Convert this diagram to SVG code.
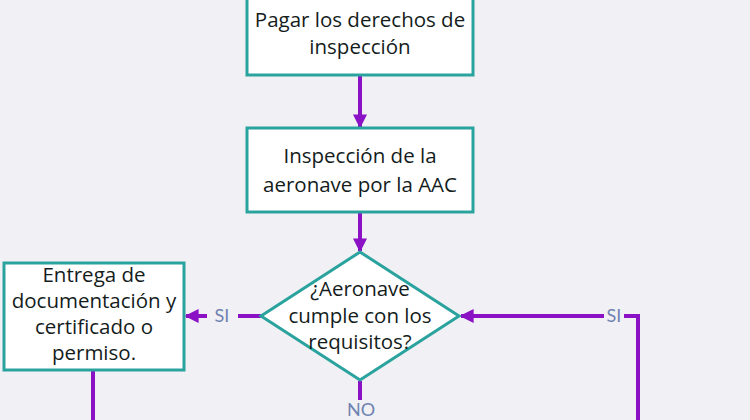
<svg xmlns="http://www.w3.org/2000/svg" width="750" height="420" viewBox="0 0 750 420">
<defs>
<style>
.box{fill:#ffffff;stroke:#2aa39e;stroke-width:3}
.t{font-family:"Open Sans","Liberation Sans",sans-serif;font-size:20.5px;fill:#141c1c;text-anchor:middle}
.lbl{font-family:Lato,"Open Sans",sans-serif;font-size:18px;fill:#6f82b0;text-anchor:middle}
.c{fill:none;stroke:#8a12c4;stroke-width:4}
</style>
<marker id="ah" viewBox="0 0 10 10" refX="9" refY="5" markerWidth="3.5" markerHeight="3.5" markerUnits="strokeWidth" orient="auto">
<path d="M0,0 L10,5 L0,10 z" fill="#8a12c4"/>
</marker>
</defs>
<rect width="750" height="420" fill="#f0f0f5"/>
<g id="connectors">
<line class="c" x1="360" y1="76" x2="360" y2="127" marker-end="url(#ah)"/>
<line class="c" x1="360" y1="213" x2="360" y2="251" marker-end="url(#ah)"/>
<line class="c" x1="261" y1="316" x2="238" y2="316"/>
<line class="c" x1="207" y1="316" x2="186" y2="316" marker-end="url(#ah)"/>
<line class="c" x1="360" y1="381" x2="360" y2="400"/>
<line class="c" x1="93" y1="371" x2="93" y2="422"/>
<polyline class="c" points="638,422 638,316 624,316"/>
<line class="c" x1="604" y1="316" x2="461" y2="316" marker-end="url(#ah)"/>
<text class="lbl" x="222" y="322">SI</text>
<text class="lbl" x="614" y="322">SI</text>
<text class="lbl" x="361" y="416">NO</text>
</g>
<g id="n1">
<rect class="box" x="247" y="-5" width="226" height="80"/>
<text class="t" x="360" y="27">Pagar los derechos de</text>
<text class="t" x="360" y="54">inspección</text>
</g>
<g id="n2">
<rect class="box" x="247" y="128" width="226" height="84"/>
<text class="t" x="360" y="163">Inspección de la</text>
<text class="t" x="360" y="192">aeronave por la AAC</text>
</g>
<g id="n3">
<polygon class="box" points="360,252 459,316 360,380 261,316"/>
<text class="t" x="360" y="296">¿Aeronave</text>
<text class="t" x="360" y="323">cumple con los</text>
<text class="t" x="360" y="349">requisitos?</text>
</g>
<g id="n4">
<rect class="box" x="4" y="263" width="180" height="107"/>
<text class="t" x="94" y="282">Entrega de</text>
<text class="t" x="94" y="308">documentación y</text>
<text class="t" x="94" y="334">certificado o</text>
<text class="t" x="94" y="360">permiso.</text>
</g>
</svg>
